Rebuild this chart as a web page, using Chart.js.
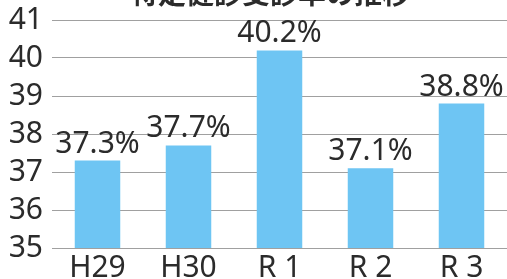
<!doctype html>
<html>
	<head>
		<meta charset="utf-8" />
		<title>特定健診受診率の推移</title>
		<script src="https://cdn.jsdelivr.net/npm/chart.js@4/dist/chart.umd.min.js"></script>
		<style>
			html,
			body {
				margin: 0;
				padding: 0;
				background: #fff;
			}
			#wrap {
				position: relative;
				width: 507px;
				height: 279px;
			}
		</style>
	</head>
	<body>
		<div id="wrap"><canvas id="chart"></canvas></div>
		<script>
			const titleText = "特定健診受診率の推移";
			const years = ["H29", "H30", "R 1", "R 2", "R 3"];
			const rates = [37.3, 37.7, 40.2, 37.1, 38.8];
			const yTicks = [35, 36, 37, 38, 39, 40, 41];

			const textColor = "#2b2b2b";
			const barColor = "#6ec5f3";

			// title is cut off at the top of the picture, only its bottom shows
			const cutTitle = {
				id: "cutTitle",
				afterDraw(chart) {
					const ctx = chart.ctx;
					ctx.save();
					ctx.font = "bold 28px 'Noto Sans CJK JP'";
					ctx.fillStyle = textColor;
					ctx.textAlign = "center";
					ctx.textBaseline = "alphabetic";
					ctx.fillText(titleText, 270, 4);
					ctx.restore();
				},
			};

			// value labels above each bar
			const valueLabels = {
				id: "valueLabels",
				afterDatasetsDraw(chart) {
					const ctx = chart.ctx;
					const meta = chart.getDatasetMeta(0);
					ctx.save();
					ctx.font = "30px 'Noto Sans'";
					ctx.fillStyle = textColor;
					ctx.textAlign = "center";
					ctx.textBaseline = "alphabetic";
					meta.data.forEach((bar, i) => {
						ctx.fillText(rates[i].toFixed(1) + "%", bar.x, bar.y - 8);
					});
					ctx.restore();
				},
			};

			new Chart(document.getElementById("chart"), {
				type: "bar",
				data: {
					labels: years,
					datasets: [
						{
							data: rates,
							backgroundColor: barColor,
							barPercentage: 0.5,
							categoryPercentage: 1,
						},
					],
				},
				options: {
					responsive: true,
					maintainAspectRatio: false,
					animation: false,
					layout: { padding: { top: 20, right: 0, left: 0, bottom: 0 } },
					plugins: {
						legend: { display: false },
						tooltip: { enabled: false },
					},
					scales: {
						x: {
							grid: { display: false, drawTicks: false },
							border: { display: false },
							ticks: {
								color: textColor,
								font: { family: "Noto Sans", size: 30 },
								padding: 2,
								maxRotation: 0,
							},
							afterFit(scale) {
								scale.height = 31;
								scale.paddingLeft = 0;
								scale.paddingRight = 0;
							},
						},
						y: {
							min: 35,
							max: 41,
							afterBuildTicks(scale) {
								scale.ticks = yTicks.map((v) => ({ value: v }));
							},
							grid: {
								color: "rgba(120,120,120,0.7)",
								lineWidth: 1,
								drawTicks: false,
							},
							border: { display: false },
							ticks: {
								color: textColor,
								font: { family: "Noto Sans", size: 30 },
								padding: 9,
								autoSkip: false,
							},
							afterFit(scale) {
								scale.width = 52;
								scale.paddingTop = 0;
								scale.paddingBottom = 0;
							},
						},
					},
				},
				plugins: [cutTitle, valueLabels],
			});
		</script>
	</body>
</html>
